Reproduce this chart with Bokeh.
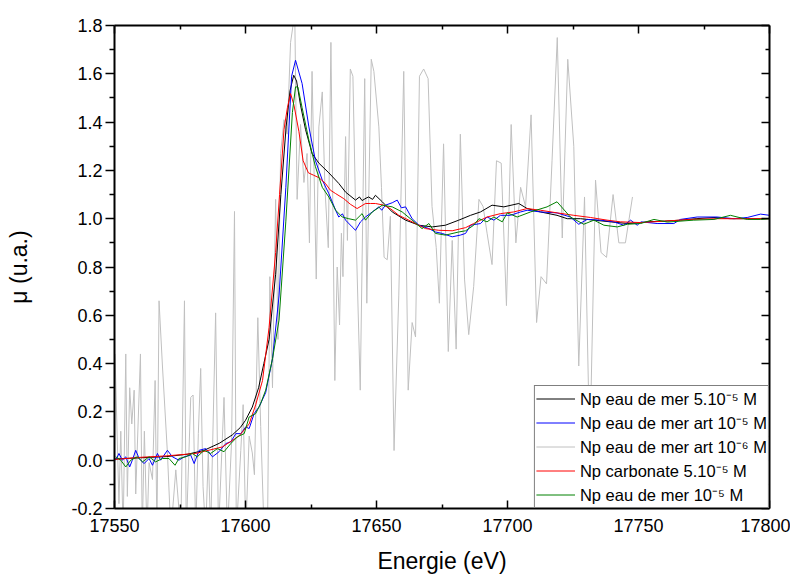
from bokeh.plotting import figure
from bokeh.models import (LinearAxis, FixedTicker, PrintfTickFormatter, Legend, LegendItem,
                          CustomLabelingPolicy)
from bokeh.embed import file_html
from bokeh.resources import INLINE

# ---------------- data ----------------
x_ticks = [17550, 17600, 17650, 17700, 17750, 17800]
x_minor = [17575, 17625, 17675, 17725, 17775]
y_ticks = [-0.2, 0.0, 0.2, 0.4, 0.6, 0.8, 1.0, 1.2, 1.4, 1.6, 1.8]
y_minor = [-0.1, 0.1, 0.3, 0.5, 0.7, 0.9, 1.1, 1.3, 1.5, 1.7]

labels = ["Np eau de mer 5.10\u207b\u2075 M",
          "Np eau de mer art 10\u207b\u2075 M",
          "Np eau de mer art 10\u207b\u2076 M",
          "Np carbonate 5.10\u207b\u2075 M",
          "Np eau de mer 10\u207b\u2075 M"]

black_e = [17550, 17560, 17570, 17578, 17584, 17590, 17595, 17598, 17600, 17602.6, 17605, 17607,
           17609, 17611.5, 17613.5, 17615.5, 17617, 17618.4, 17619.5, 17621, 17622.9, 17625.4,
           17628, 17631.8, 17635.6, 17638.2, 17642, 17643.5, 17644.5, 17646, 17647, 17648.5,
           17649.6, 17652.2, 17656, 17661.1, 17666.2, 17671.3, 17676.3, 17681.4, 17685.9,
           17689.7, 17694.1, 17698.6, 17704.3, 17707.5, 17712.6, 17718.9, 17722.8, 17727.9,
           17733, 17739.3, 17745.7, 17750.8, 17753.3, 17760, 17766, 17772, 17778.8, 17785,
           17791.5, 17800]
black_mu = [0.005, 0.01, 0.015, 0.025, 0.04, 0.07, 0.105, 0.135, 0.165, 0.22, 0.30, 0.40,
            0.50, 0.77, 1.10, 1.38, 1.53, 1.594, 1.57, 1.47, 1.37, 1.27,
            1.23, 1.19, 1.146, 1.11, 1.077, 1.09, 1.075, 1.085, 1.09, 1.08,
            1.097, 1.07, 1.028, 0.994, 0.973, 0.966, 0.973, 0.994, 1.014,
            1.028, 1.056, 1.049, 1.063, 1.042, 1.028, 1.014, 1.0, 1.0,
            0.994, 0.987, 0.98, 0.983, 0.987, 0.99, 0.994, 1.0, 1.005, 1.0,
            1.0, 1.0]

blue_e = [17550.5, 17551.7, 17553.0, 17554.3, 17555.8, 17556.8, 17558.1, 17559.4, 17561.3,
          17563.2, 17564.5, 17566.4, 17567.6, 17570.2, 17572.1, 17574.6, 17576.6, 17579.1,
          17580.4, 17582.3, 17584.8, 17587.4, 17589.9, 17592.5, 17594.4, 17596.3, 17598.2,
          17600.1, 17601.4, 17603.3, 17605.2, 17607.7, 17610.3, 17612.8, 17615.4, 17617.6,
          17619.1, 17621.6, 17624.2, 17626.7, 17629.3, 17631.8, 17634.4, 17635.6, 17637,
          17638.2, 17640.7, 17642, 17643.9, 17645.8, 17648.4, 17650.9, 17652, 17653.4, 17656,
          17657.9, 17659.5, 17661.1, 17663.6, 17666.2, 17670, 17672.5, 17675.1, 17678.9,
          17682, 17684, 17685.9, 17689.7, 17692.2, 17694.8, 17697.3, 17701.1, 17705, 17707.5,
          17712.6, 17718.9, 17724, 17727.2, 17730.4, 17735.5, 17740.6, 17744.4, 17747,
          17749.5, 17751, 17757.1, 17763.5, 17766, 17772.4, 17780, 17786.4, 17791.5, 17796.6,
          17800]
blue_mu = [0.0, 0.028, 0.0, 0.014, -0.028, 0.0, 0.041, 0.007, -0.014,
           0.007, -0.021, 0.028, 0.0, 0.041, 0.014, 0.0, 0.014, 0.021,
           -0.014, 0.041, 0.048, 0.014, 0.035, 0.069, 0.076, 0.11, 0.11,
           0.138, 0.131, 0.193, 0.221, 0.28, 0.42, 0.68, 1.13, 1.59,
           1.656, 1.56, 1.38, 1.24, 1.16, 1.104, 1.035, 1.007, 1.02,
           0.994, 0.966, 0.952, 0.987, 1.007, 1.028, 1.049, 1.035, 1.056, 1.066,
           1.077, 1.045, 1.049, 1.0, 0.973, 0.959, 0.945, 0.939, 0.925,
           0.932, 0.939, 0.973, 0.98, 1.007, 0.994, 1.014, 1.014, 1.028, 1.035,
           1.028, 1.024, 1.007, 0.977, 0.997, 0.994, 0.987, 0.973, 0.994,
           0.973, 0.987, 0.98, 0.98, 0.997, 1.007, 1.007, 1.0, 1.005, 1.019,
           1.014]

gray_e = [17550.2, 17551.7, 17552.4, 17553.3, 17554.3, 17554.9, 17555.8, 17556.6, 17557.5,
          17558.1, 17559.9, 17560.6, 17561.4, 17562.4, 17563.2, 17564.5, 17565.5, 17566.2,
          17567.0, 17568.3, 17570.2, 17571.5, 17573.4, 17575.3, 17576.7, 17577.4, 17579.1,
          17580.0, 17581.0, 17582.0, 17582.9, 17583.8, 17584.8, 17585.8, 17586.7, 17588.6,
          17589.7, 17591.8, 17593.1, 17594.7, 17595.8, 17596.5, 17598.2, 17599.1, 17600.1,
          17601.4, 17602.6, 17603.4, 17604.7, 17605.8, 17607.1, 17608.4, 17609.3, 17610.3,
          17611.5, 17612.4, 17613.4, 17614.7, 17615.9, 17617.2, 17618.8, 17619.7, 17621.0,
          17622.3, 17623.5, 17624.4, 17625.4, 17627.0, 17628.0, 17629.3, 17630.3, 17631.6,
          17632.6, 17634.1, 17635.0, 17635.9, 17636.6, 17637.2, 17638.2, 17638.9, 17640.0,
          17641.0, 17642.2, 17643.8, 17645.5, 17646.3, 17648.0, 17649.0, 17650.9, 17651.9,
          17652.9, 17654.1, 17655.3, 17656.7, 17658.5, 17660.4, 17662.1, 17663.6, 17664.9,
          17666.4, 17668.0, 17669.7, 17671.2, 17672.8, 17674.0, 17675.6, 17677.4, 17678.9,
          17680.4, 17682.0, 17683.6, 17685.2, 17687.1, 17689.1, 17690.7, 17692.2, 17694.1,
          17695.8, 17697.6, 17699.6, 17701.4, 17703.2, 17705.0, 17706.9, 17709.0, 17711.1,
          17712.8, 17714.9, 17717.0, 17719.0, 17720.9, 17723.0, 17725.3, 17727.2, 17729.4,
          17731.4, 17733.6, 17735.7, 17737.8, 17740.3, 17742.5, 17745.0, 17747.7]
gray_mu = [0.44, -0.18, 0.12, -0.3, 0.44, -0.15, 0.30, 0.15, 0.29,
           -0.14, 0.44, -0.3, 0.12, -0.3, -0.01, -0.08, 0.33, -0.3,
           0.66, 0.39, 0.03, -0.3, -0.04, -0.3, 0.66, -0.3, 0.26,
           0.27, -0.3, 0.11, 0.38, -0.11, -0.3, 0.03, -0.3, 0.61,
           -0.3, 0.26, -0.3, 0.08, 1.03, -0.3, 0.04, 0.23, -0.3,
           0.10, 0.03, -0.06, 0.59, 0.14, -0.3, -0.3, 0.76, 0.30,
           1.08, 0.50, 1.27, 1.41, 1.35, 1.73, 1.85, 1.08, 1.39,
           1.15, 1.27, 0.90, 1.61, 0.75, 1.38, 1.525, 1.13, 0.88,
           1.73, 0.33, 0.80, 0.56, 0.94, 0.76, 1.34, 0.91, 1.62,
           1.59, 0.94, 0.29, 1.58, 0.65, 1.66, 1.61, 1.38, 1.13,
           0.84, 0.83, 1.01, 0.04, 0.68, 1.61, 0.29, 0.57, 0.51,
           1.59, 1.62, 1.58, 1.05, 0.88, 0.65, 1.31, 0.45, 0.91,
           0.46, 1.35, 0.75, 0.52, 0.72, 1.08, 1.05, 0.94, 0.81,
           1.24, 1.23, 0.64, 1.39, 0.90, 1.13, 1.05, 1.43, 0.57,
           0.76, 0.73, 1.24, 1.75, 0.92, 1.66, 1.30, 0.39, 1.09,
           0.03, 1.16, 0.86, 0.84, 1.10, 0.90, 0.90, 1.09]

red_e = [17550, 17560, 17570, 17581, 17591.2, 17597.5, 17601.4, 17603.9, 17606.5, 17609,
         17611.5, 17613, 17614.7, 17616, 17617.2, 17618.5, 17620.4, 17622, 17624, 17626,
         17628, 17630.5, 17632.4, 17634.4, 17637.5, 17640, 17642.6, 17645.8, 17647.7, 17649.6,
         17652.8, 17655.5, 17658.5, 17663.6, 17668.7, 17673.8, 17678.9, 17684, 17687.1,
         17692.2, 17697.3, 17702.4, 17707.5, 17712.6, 17719, 17725.3, 17731.7, 17738, 17743.1,
         17750.8, 17760, 17770, 17780, 17790, 17800]
red_mu = [0.003, 0.012, 0.018, 0.028, 0.055, 0.10, 0.15, 0.23, 0.33, 0.55,
          0.86, 1.10, 1.37, 1.46, 1.518, 1.47, 1.36, 1.24, 1.19, 1.18,
          1.17, 1.146, 1.118, 1.104, 1.083, 1.06, 1.042, 1.063, 1.063, 1.063,
          1.056, 1.04, 1.014, 0.987, 0.959, 0.952, 0.95, 0.963, 0.98,
          1.007, 1.021, 1.028, 1.042, 1.035, 1.024, 1.014, 1.005, 0.994, 0.987,
          0.984, 0.99, 0.997, 1.0, 1.0, 1.0]

green_e = [17550.5, 17552.4, 17554.3, 17556.2, 17558.7, 17560.7, 17563.2, 17565.7, 17568.3,
           17570.8, 17573.1, 17574.6, 17577.2, 17579.7, 17581.6, 17584.2, 17586.7, 17589.3,
           17591.8, 17594.4, 17596.9, 17599.5, 17601.4, 17603.9, 17605.8, 17607.7, 17610.3,
           17612.8, 17615.4, 17617.9, 17619.1, 17620, 17621.6, 17624.2, 17626.7, 17629.3,
           17631.8, 17634.4, 17636.9, 17639.4, 17642, 17644.5, 17645.8, 17648.4, 17652.2,
           17656, 17659.8, 17663.6, 17667.4, 17670, 17672.5, 17676.3, 17681.4, 17684, 17687.1,
           17689.1, 17692.2, 17694.8, 17698, 17699.9, 17703.7, 17708.8, 17715.1, 17718.9,
           17724, 17729.1, 17733, 17736.8, 17741.9, 17745.7, 17750.8, 17755.9, 17761, 17771.1,
           17778.8, 17785.1, 17791.5, 17796.6, 17800]
green_mu = [0.014, 0.0, -0.028, 0.0, 0.014, -0.007, 0.014, -0.007, 0.007,
            0.007, -0.021, 0.007, 0.014, 0.028, 0.014, 0.041, 0.028, 0.048,
            0.035, 0.069, 0.097, 0.11, 0.179, 0.193, 0.235, 0.29, 0.42,
            0.58, 0.99, 1.44, 1.546, 1.545, 1.46, 1.325, 1.215, 1.13,
            1.09, 1.035, 1.007, 1.0, 0.994, 1.021, 0.994, 1.028, 1.056,
            1.049, 1.028, 0.994, 0.959, 0.98, 0.939, 0.932, 0.945, 0.95, 0.973,
            1.0, 0.987, 1.007, 0.987, 1.024, 1.007, 1.028, 1.049, 1.07,
            1.007, 0.977, 0.994, 0.973, 0.966, 0.977, 0.98, 0.997, 0.986, 0.994,
            0.997, 1.014, 0.997, 0.997, 1.0]

# ---------------- figure ----------------
FONT = "Liberation Sans"
p = figure(width=790, height=577, x_range=(17550, 17800), y_range=(-0.2, 1.8),
           output_backend="svg", toolbar_location=None,
           min_border_left=114, min_border_right=21, min_border_top=25, min_border_bottom=69)
p.xgrid.visible = False
p.ygrid.visible = False
p.outline_line_color = None
p.background_fill_color = "white"

xt = FixedTicker(ticks=x_ticks, minor_ticks=x_minor)
yt = FixedTicker(ticks=y_ticks, minor_ticks=y_minor)

def style(ax, inward, show_labels):
    ax.axis_line_color = "black"
    ax.axis_line_width = 2
    ax.major_tick_line_color = "black"
    ax.minor_tick_line_color = "black"
    ax.major_tick_line_width = 1.5
    ax.minor_tick_line_width = 1.5
    if inward:
        ax.major_tick_in, ax.major_tick_out = 8, 0
        ax.minor_tick_in, ax.minor_tick_out = 4, 0
    else:
        ax.major_tick_in, ax.major_tick_out = 0, 9
        ax.minor_tick_in, ax.minor_tick_out = 0, 5
    if show_labels:
        ax.major_label_text_font = FONT
        ax.major_label_text_font_size = "18px"
        ax.major_label_text_color = "black"
        ax.axis_label_text_font = FONT
        ax.axis_label_text_font_style = "normal"
        ax.axis_label_text_color = "black"
    else:
        # frame-side axis: ticks only, no labels drawn
        ax.major_label_text_font_size = "1px"
        ax.major_label_standoff = 0
        ax.major_label_policy = CustomLabelingPolicy(code="return []")

xa = p.xaxis[0]
xa.ticker = xt
xa.formatter = PrintfTickFormatter(format="%d")
style(xa, True, True)
xa.axis_label = "Energie (eV)"
xa.axis_label_text_font_size = "23px"
xa.major_label_standoff = 10
xa.axis_label_standoff = 13

ya = p.yaxis[0]
ya.ticker = yt
ya.formatter = PrintfTickFormatter(format="%.1f")
style(ya, False, True)
ya.axis_label = "\u03bc (u.a.)"
ya.axis_label_text_font_size = "23px"
ya.major_label_standoff = 3
ya.axis_label_standoff = 36

top = LinearAxis(ticker=FixedTicker(ticks=x_ticks, minor_ticks=x_minor))
style(top, True, False)
p.add_layout(top, "above")
right = LinearAxis(ticker=FixedTicker(ticks=y_ticks, minor_ticks=y_minor))
style(right, True, False)
p.add_layout(right, "right")

r_gray = p.line(gray_e, gray_mu, line_color="#c0c0c0", line_width=1)
r_black = p.line(black_e, black_mu, line_color="black", line_width=1)
r_blue = p.line(blue_e, blue_mu, line_color="#0000ff", line_width=1)
r_red = p.line(red_e, red_mu, line_color="#ff0000", line_width=1)
r_green = p.line(green_e, green_mu, line_color="#008000", line_width=1)

legend = Legend(items=[LegendItem(label=labels[0], renderers=[r_black]),
                       LegendItem(label=labels[1], renderers=[r_blue]),
                       LegendItem(label=labels[2], renderers=[r_gray]),
                       LegendItem(label=labels[3], renderers=[r_red]),
                       LegendItem(label=labels[4], renderers=[r_green])],
                location="bottom_right")
legend.margin = 0
legend.padding = 1
legend.spacing = 1
legend.glyph_width = 39
legend.glyph_height = 23
legend.label_height = 23
legend.label_standoff = 5
legend.label_text_font = FONT
legend.label_text_font_size = "16.5px"
legend.label_text_color = "black"
legend.border_line_color = "black"
legend.border_line_width = 1
legend.background_fill_color = "white"
legend.background_fill_alpha = 1
p.add_layout(legend)

open("out.html", "w").write(file_html(p, INLINE))
